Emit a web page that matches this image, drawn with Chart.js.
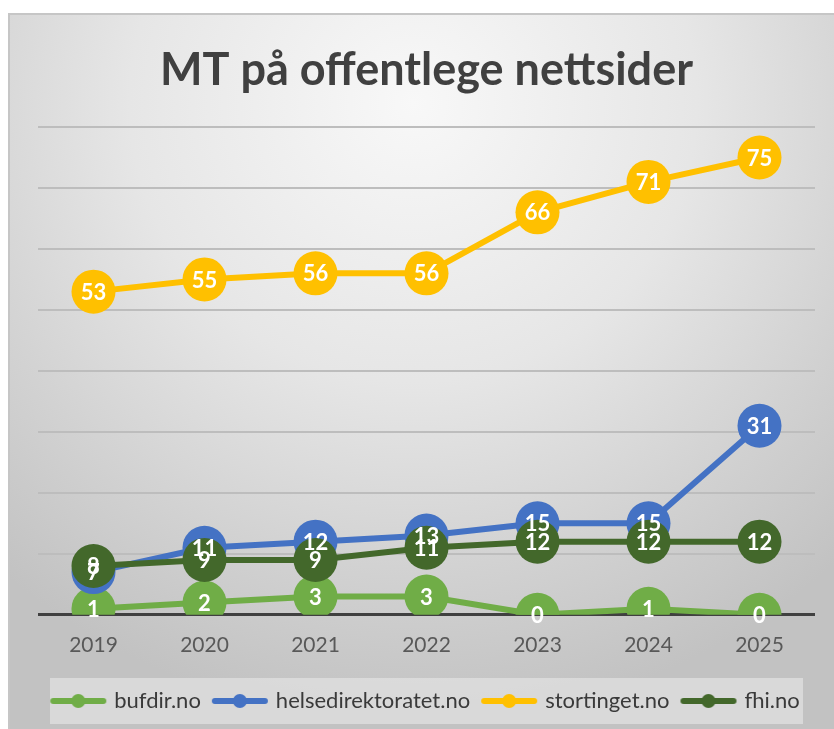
<!DOCTYPE html>
<html>
<head>
<meta charset="utf-8">
<script src="https://cdn.jsdelivr.net/npm/chart.js@4"></script>
<style>
  html, body { margin: 0; padding: 0; background: #fff; overflow: hidden; }
  .frame {
    position: absolute; left: 8px; top: 13px; width: 840px; height: 730px;
    border-top: 2px solid #c6c6c6; border-left: 2px solid #c6c6c6;
    background: radial-gradient(ellipse 75% 85% at 48% 12%, #f8f8f8 0%, #e6e6e6 45%, #d2d2d2 75%, #c2c2c2 100%);
  }
  .wrap { position: absolute; left: 0; top: 0; width: 834px; height: 729px; }
</style>
</head>
<body>
<div class="frame"></div>
<div class="wrap"><canvas id="chart" width="834" height="729"></canvas></div>
<script>
const years = ['2019', '2020', '2021', '2022', '2023', '2024', '2025'];
const bufdir = [1, 2, 3, 3, 0, 1, 0];
const helsedirektoratet = [7, 11, 12, 13, 15, 15, 31];
const stortinget = [53, 55, 56, 56, 66, 71, 75];
const fhi = [8, 9, 9, 11, 12, 12, 12];

const seriesNames = ['bufdir.no', 'helsedirektoratet.no', 'stortinget.no', 'fhi.no'];
const seriesColors = ['#70AD47', '#4472C4', '#FFC000', '#43682B'];
const seriesValues = [bufdir, helsedirektoratet, stortinget, fhi];

// line + dot marker for the legend, like Excel
const makeMarker = color => {
  const c = document.createElement('canvas');
  c.width = 58; c.height = 16;
  const g = c.getContext('2d');
  g.strokeStyle = color; g.lineWidth = 6; g.lineCap = 'round';
  g.beginPath(); g.moveTo(4, 8); g.lineTo(54, 8); g.stroke();
  g.fillStyle = color;
  g.beginPath(); g.arc(29, 8, 7, 0, Math.PI * 2); g.fill();
  return c;
};

const valueLabels = {
  id: 'valueLabels',
  afterDatasetsDraw(chart) {
    const ctx = chart.ctx;
    ctx.save();
    ctx.font = 'bold 22px Lato';
    ctx.fillStyle = '#ffffff';
    ctx.textAlign = 'center';
    ctx.textBaseline = 'middle';
    chart.data.datasets.forEach((ds, i) => {
      chart.getDatasetMeta(i).data.forEach((pt, j) => {
        ctx.fillText(ds.data[j], pt.x, pt.y + 1);
      });
    });
    ctx.restore();
  }
};

const legendBox = {
  id: 'legendBox',
  beforeDraw(chart) {
    const lg = chart.legend;
    if (!lg || !lg.legendHitBoxes.length) return;
    const hb = lg.legendHitBoxes[0];
    const cy = hb.top + hb.height / 2;
    const ctx = chart.ctx;
    ctx.save();
    ctx.fillStyle = 'rgba(232,232,232,0.6)';
    ctx.fillRect(50, cy - 23, 753, 46);
    ctx.restore();
  }
};

new Chart(document.getElementById('chart'), {
  type: 'line',
  data: {
    labels: years,
    datasets: seriesNames.map((name, i) => ({
      label: name,
      data: seriesValues[i],
      borderColor: seriesColors[i],
      backgroundColor: seriesColors[i],
      pointBackgroundColor: seriesColors[i],
      pointBorderWidth: 0,
      pointRadius: 22,
      pointHoverRadius: 22,
      borderWidth: 6,
      tension: 0,
      order: seriesNames.length - i
    }))
  },
  options: {
    responsive: false,
    animation: false,
    layout: { autoPadding: false, padding: { left: 38, right: 19, top: 0, bottom: 7 } },
    plugins: {
      title: {
        display: true,
        text: 'MT på offentlege nettsider',
        color: '#404040',
        font: { family: 'Lato', size: 45, weight: 'bold', lineHeight: 1.2 },
        padding: { top: 43, bottom: 30 }
      },
      legend: {
        position: 'bottom',
        labels: {
          usePointStyle: true,
          pointStyleWidth: 50,
          padding: 14,
          color: '#3a3a3a',
          font: { family: 'Lato', size: 22 },
          sort: (a, b) => a.datasetIndex - b.datasetIndex,
          generateLabels(chart) {
            const items = Chart.defaults.plugins.legend.labels.generateLabels(chart);
            items.forEach(it => { it.pointStyle = makeMarker(seriesColors[it.datasetIndex]); });
            return items;
          }
        }
      },
      tooltip: { enabled: false }
    },
    scales: {
      x: {
        offset: true,
        grid: { display: false, drawTicks: false },
        border: { display: false },
        ticks: { color: '#595959', font: { family: 'Lato', size: 21 }, padding: 18 },
        afterFit(scale) { scale.paddingLeft = 0; scale.paddingRight = 0; }
      },
      y: {
        min: 0,
        max: 80,
        ticks: { display: false, stepSize: 10 },
        border: { display: false },
        grid: {
          drawTicks: false,
          color: c => c.tick.value === 0 ? '#404040' : '#bdbdbd',
          lineWidth: c => c.tick.value === 0 ? 3 : 2
        }
      }
    }
  },
  plugins: [legendBox, valueLabels]
});
</script>
</body>
</html>
